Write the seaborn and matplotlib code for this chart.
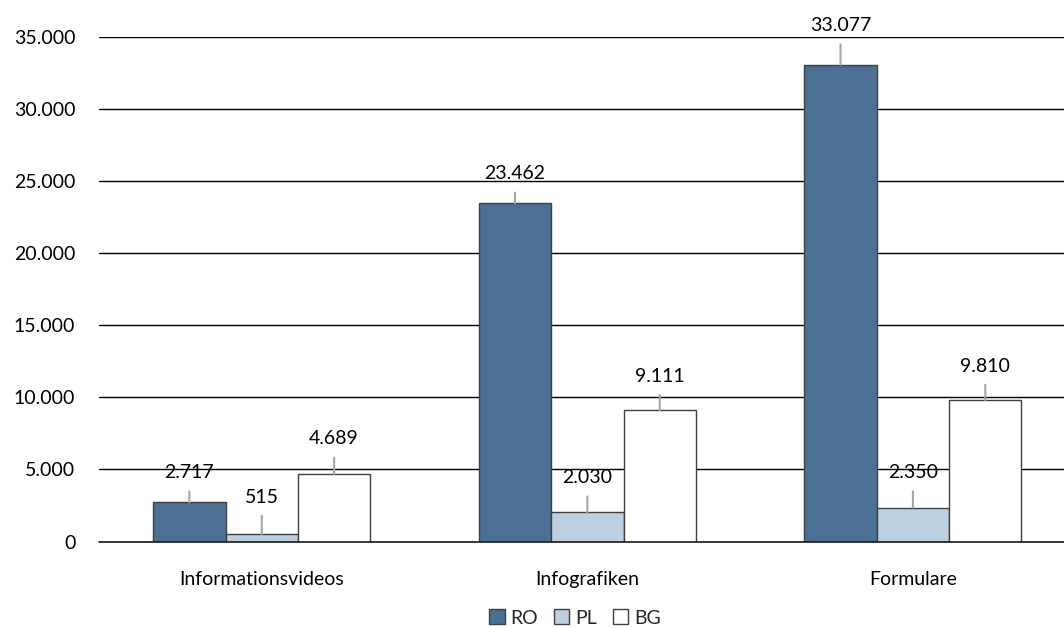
import matplotlib
matplotlib.use("Agg")
import matplotlib.pyplot as plt
import pandas as pd
import seaborn as sns

categories = ["Informationsvideos", "Infografiken", "Formulare"]
series = ["RO", "PL", "BG"]
ro_values = [2717, 23462, 33077]
pl_values = [515, 2030, 2350]
bg_values = [4689, 9111, 9810]
y_ticks = [0, 5000, 10000, 15000, 20000, 25000, 30000, 35000]

# label height above bar top (pixels), per series then category
label_offsets_px = [[29.5, 29.5, 39], [37, 34.5, 35], [35, 34, 34]]
colors = ["#4c7094", "#bdd0e0", "#ffffff"]

rows = []
for s, vals in zip(series, [ro_values, pl_values, bg_values]):
    for c, v in zip(categories, vals):
        rows.append({"Kategorie": c, "Land": s, "Wert": v})
df = pd.DataFrame(rows)

sns.set_style("white")
plt.rcParams["font.family"] = ["Lato", "DejaVu Sans"]

fig = plt.figure(figsize=(10.64, 6.28), dpi=100)
ax = fig.add_axes([0.093, 0.1377, 0.918, 0.8033])

sns.barplot(data=df, x="Kategorie", y="Wert", hue="Land", palette=colors,
            saturation=1, width=0.667, edgecolor="#404040", linewidth=1.0,
            ax=ax, legend=True, zorder=3)

ax.set_xlim(-0.5, 2.5)
ax.set_ylim(0, 35000)
ax.set_yticks(y_ticks)
ax.set_yticklabels([f"{t:,}".replace(",", ".") for t in y_ticks])
ax.yaxis.grid(True, color="#000000", linewidth=1.0, zorder=0)
ax.set_axisbelow(True)
ax.axhline(0, color="#1a1a1a", linewidth=1.2, zorder=4, clip_on=False)
for sp in ax.spines.values():
    sp.set_visible(False)
ax.set_xlabel("")
ax.set_ylabel("")
ax.tick_params(axis="y", length=0, pad=17, labelsize=14, labelcolor="#000000")
ax.tick_params(axis="x", length=0, pad=21, labelsize=14, labelcolor="#000000")
for lbl in ax.get_yticklabels():
    lbl.set_horizontalalignment("right")

for si, cont in enumerate(ax.containers):
    for ci, bar in enumerate(cont.patches):
        x = bar.get_x() + bar.get_width() / 2
        h = bar.get_height()
        off = label_offsets_px[si][ci] * 0.72
        ax.annotate(f"{int(round(h)):,}".replace(",", "."), xy=(x, h),
                    xytext=(0, off), textcoords="offset points",
                    ha="center", va="center", fontsize=14, color="#000000",
                    annotation_clip=False,
                    arrowprops=dict(arrowstyle="-", color="#a6a6a6", lw=1.5,
                                    shrinkA=5, shrinkB=0))

handles, labels = ax.get_legend_handles_labels()
ax.get_legend().remove()
fig.legend(handles, labels, loc="center", bbox_to_anchor=(575 / 1064, 0.016),
           ncol=3, frameon=False, fontsize=14, handlelength=0.8,
           handleheight=0.8, handletextpad=0.3, columnspacing=0.8)

fig.savefig("out.png", dpi=100)
